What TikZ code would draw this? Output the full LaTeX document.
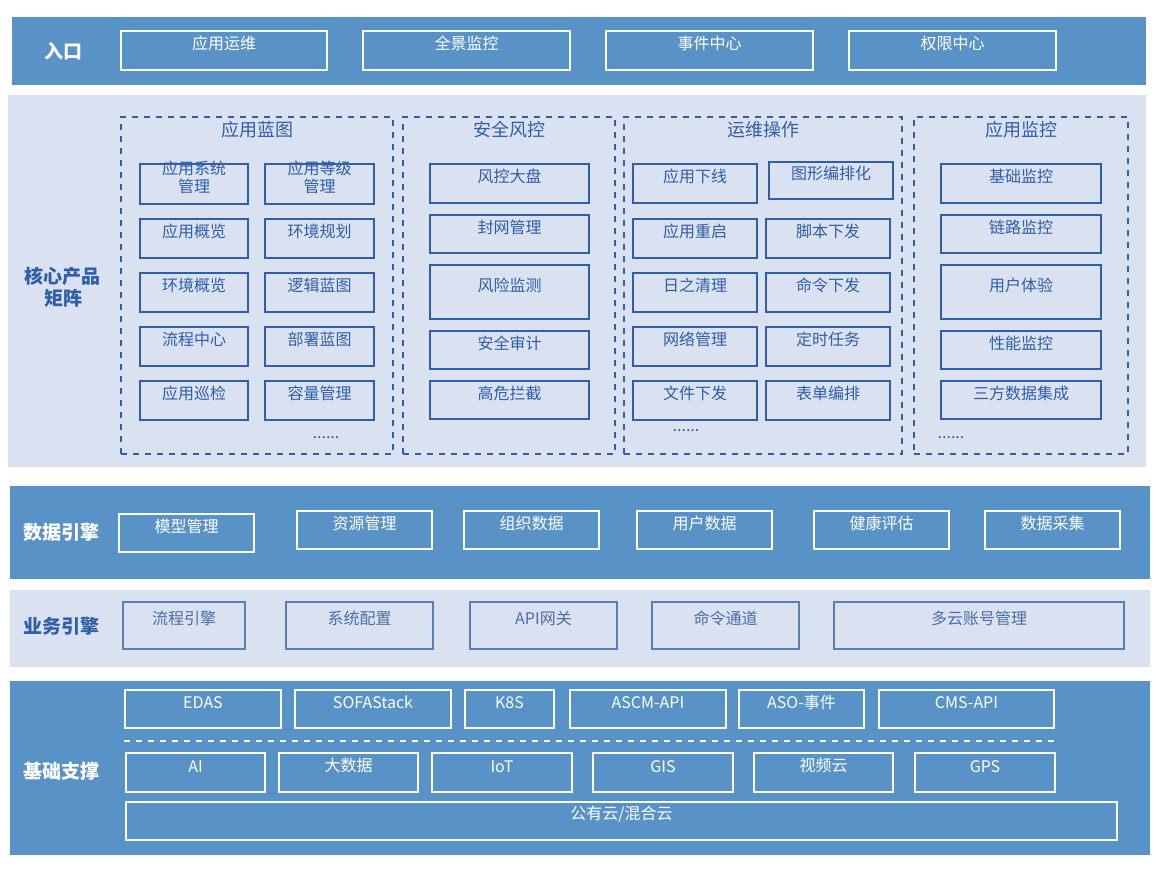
\documentclass[tikz,border=0pt]{standalone}
\usepackage{fontspec}
\setmainfont{Noto Sans CJK SC}
\usetikzlibrary{fit}
\definecolor{bandblue}{HTML}{5892C7}
\definecolor{bandlight}{HTML}{DAE1F1}
\definecolor{inkblue}{HTML}{2F5FA8}
\definecolor{greyblue}{HTML}{4A6FA5}
\newcommand\bx[7]{\node[#2, fit={(#3,#4) (#5,#6)}] (#1) {#7};}
\begin{document}
\begin{tikzpicture}[x=0.5pt, y=-0.5pt,
    font=\fontsize{8pt}{9pt}\selectfont,
    darkband/.style={fill=bandblue, draw=none, inner sep=0pt},
    lightband/.style={fill=bandlight, draw=none, inner sep=0pt},
    whitebox/.style={draw=white, line width=0.8pt, inner sep=0pt, text=white, align=center},
    bluebox/.style={draw=inkblue, line width=0.8pt, inner sep=0pt, text=inkblue, align=center},
    greybox/.style={draw=inkblue!80, line width=0.8pt, inner sep=0pt, text=greyblue, align=center},
    group/.style={draw=inkblue, dashed, line width=0.8pt, inner sep=0pt},
    darklabel/.style={text=white, font=\fontsize{9.5pt}{11pt}\selectfont\bfseries, align=center},
    lightlabel/.style={text=inkblue, font=\fontsize{9.5pt}{11pt}\selectfont\bfseries, align=center},
    title/.style={text=inkblue, font=\fontsize{9pt}{10pt}\selectfont}
  ]
  \useasboundingbox (0,0) rectangle (1156,869);
  % entry
  \bx{entry}{darkband}{12}{17}{1146}{85}{}
  \node[darklabel] (entrylbl) at (63,51) {入口};
  \bx{e1}{whitebox}{121}{31}{327}{70}{应用运维}
  \bx{e2}{whitebox}{363}{31}{570}{70}{全景监控}
  \bx{e3}{whitebox}{606}{31}{813}{70}{事件中心}
  \bx{e4}{whitebox}{849}{31}{1056}{70}{权限中心}
  % core product matrix
  \bx{core}{lightband}{8}{95}{1146}{467}{}
  \node[lightlabel] (corelbl) at (63,287) {核心产品\\矩阵};
  \bx{g1}{group}{121}{117}{393}{454}{}
  \bx{g2}{group}{403}{117}{615}{454}{}
  \bx{g3}{group}{624}{117}{902}{454}{}
  \bx{g4}{group}{914}{117}{1128}{454}{}
  \node[title] (t1) at (257,130) {应用蓝图};
  \node[title] (t2) at (509,130) {安全风控};
  \node[title] (t3) at (763,130) {运维操作};
  \node[title] (t4) at (1021,130) {应用监控};
  \bx{a1}{bluebox}{140}{164}{248}{204}{应用系统\\管理}
  \bx{a2}{bluebox}{265}{164}{374}{204}{应用等级\\管理}
  \bx{a3}{bluebox}{140}{219}{248}{258}{应用概览}
  \bx{a4}{bluebox}{265}{219}{374}{258}{环境规划}
  \bx{a5}{bluebox}{140}{273}{248}{312}{环境概览}
  \bx{a6}{bluebox}{265}{273}{374}{312}{逻辑蓝图}
  \bx{a7}{bluebox}{140}{327}{248}{366}{流程中心}
  \bx{a8}{bluebox}{265}{327}{374}{366}{部署蓝图}
  \bx{a9}{bluebox}{140}{381}{248}{420}{应用巡检}
  \bx{a10}{bluebox}{265}{381}{374}{420}{容量管理}
  \node[text=inkblue] (adots) at (326,438) {......};
  \bx{s1}{bluebox}{430}{164}{589}{203}{风控大盘}
  \bx{s2}{bluebox}{430}{215}{589}{253}{封网管理}
  \bx{s3}{bluebox}{430}{265}{589}{319}{风险监测}
  \bx{s4}{bluebox}{430}{331}{589}{369}{安全审计}
  \bx{s5}{bluebox}{430}{381}{589}{419}{高危拦截}
  \bx{o1}{bluebox}{633}{164}{757}{203}{应用下线}
  \bx{o2}{bluebox}{769}{162}{893}{199}{图形编排化}
  \bx{o3}{bluebox}{633}{219}{757}{258}{应用重启}
  \bx{o4}{bluebox}{766}{219}{890}{258}{脚本下发}
  \bx{o5}{bluebox}{633}{273}{757}{312}{日之清理}
  \bx{o6}{bluebox}{766}{273}{890}{312}{命令下发}
  \bx{o7}{bluebox}{633}{327}{757}{366}{网络管理}
  \bx{o8}{bluebox}{766}{327}{890}{366}{定时任务}
  \bx{o9}{bluebox}{633}{381}{757}{420}{文件下发}
  \bx{o10}{bluebox}{766}{381}{890}{420}{表单编排}
  \node[text=inkblue] (odots) at (686,431) {......};
  \bx{m1}{bluebox}{941}{164}{1101}{203}{基础监控}
  \bx{m2}{bluebox}{941}{215}{1101}{253}{链路监控}
  \bx{m3}{bluebox}{941}{265}{1101}{319}{用户体验}
  \bx{m4}{bluebox}{941}{331}{1101}{369}{性能监控}
  \bx{m5}{bluebox}{941}{381}{1101}{419}{三方数据集成}
  \node[text=inkblue] (mdots) at (951,438) {......};
  % data engine
  \bx{data}{darkband}{10}{486}{1150}{579}{}
  \node[darklabel] (datalbl) at (62,532) {数据引擎};
  \bx{d1}{whitebox}{119}{514}{254}{552}{模型管理}
  \bx{d2}{whitebox}{297}{511}{432}{549}{资源管理}
  \bx{d3}{whitebox}{464}{511}{599}{549}{组织数据}
  \bx{d4}{whitebox}{637}{511}{772}{549}{用户数据}
  \bx{d5}{whitebox}{814}{511}{949}{549}{健康评估}
  \bx{d6}{whitebox}{985}{511}{1120}{549}{数据采集}
  % business engine
  \bx{biz}{lightband}{10}{590}{1150}{667}{}
  \node[lightlabel] (bizlbl) at (62,626) {业务引擎};
  \bx{b1}{greybox}{123}{602}{245}{649}{流程引擎}
  \bx{b2}{greybox}{286}{602}{433}{649}{系统配置}
  \bx{b3}{greybox}{470}{602}{617}{649}{API网关}
  \bx{b4}{greybox}{652}{602}{799}{649}{命令通道}
  \bx{b5}{greybox}{834}{602}{1124}{649}{多云账号管理}
  % base support
  \bx{base}{darkband}{10}{681}{1150}{855}{}
  \node[darklabel] (baselbl) at (62,771) {基础支撑};
  \bx{f1}{whitebox}{125}{690}{281}{728}{EDAS}
  \bx{f2}{whitebox}{295}{690}{451}{728}{SOFAStack}
  \bx{f3}{whitebox}{465}{690}{554}{728}{K8S}
  \bx{f4}{whitebox}{570}{690}{726}{728}{ASCM-API}
  \bx{f5}{whitebox}{739}{690}{864}{728}{ASO-事件}
  \bx{f6}{whitebox}{879}{690}{1054}{728}{CMS-API}
  \coordinate (sepL) at (124,741);
  \coordinate (sepR) at (1056,741);
  \draw[white, dashed, line width=0.8pt] (sepL) -- (sepR);
  \bx{h1}{whitebox}{126}{753}{265}{792}{AI}
  \bx{h2}{whitebox}{279}{753}{418}{792}{大数据}
  \bx{h3}{whitebox}{432}{753}{572}{792}{IoT}
  \bx{h4}{whitebox}{593}{753}{733}{792}{GIS}
  \bx{h5}{whitebox}{754}{753}{893}{792}{视频云}
  \bx{h6}{whitebox}{915}{753}{1055}{792}{GPS}
  \bx{cloud}{whitebox}{126}{802}{1117}{840}{公有云/混合云}
\end{tikzpicture}
\end{document}
